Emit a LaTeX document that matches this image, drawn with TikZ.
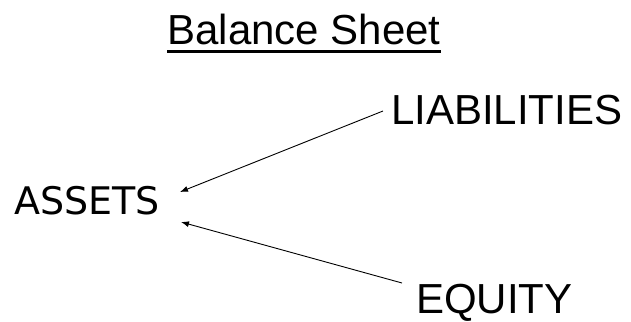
\documentclass[tikz,border=0pt]{standalone}
\usepackage{fontspec}
\setmainfont{Liberation Sans}
\newfontfamily\assetsfont{DejaVu Sans}
\usetikzlibrary{arrows.meta}
\begin{document}
\begin{tikzpicture}[x=1pt,y=1pt,
  label/.style={inner sep=0pt, font=\fontsize{42}{48}\selectfont},
  flow/.style={line width=0.9pt, -{Latex[length=8pt,width=6pt]}}]
\useasboundingbox (0,0) rectangle (631,321);
% heading with thick underline
\node[label, anchor=base] (title) at (304,276) {Balance Sheet};
\draw[line width=3.5pt] ([yshift=-6.5pt]title.base west) -- ([yshift=-6.5pt]title.base east);
% the three items
\node[inner sep=0pt, anchor=base west, font=\assetsfont\fontsize{38}{44}\selectfont] (assets) at (14,106) {ASSETS};
\node[label, anchor=base west] (liab) at (391,196) {LIABILITIES};
\node[label, anchor=base west] (equity) at (416,8) {EQUITY};
% connector ends
\coordinate (lstart) at (383,210);
\coordinate (estart) at (402,38);
\coordinate (aup) at (180,129);
\coordinate (alow) at (181,99);
\draw[flow] (lstart) -- (aup);
\draw[flow] (estart) -- (alow);
\end{tikzpicture}
\end{document}
